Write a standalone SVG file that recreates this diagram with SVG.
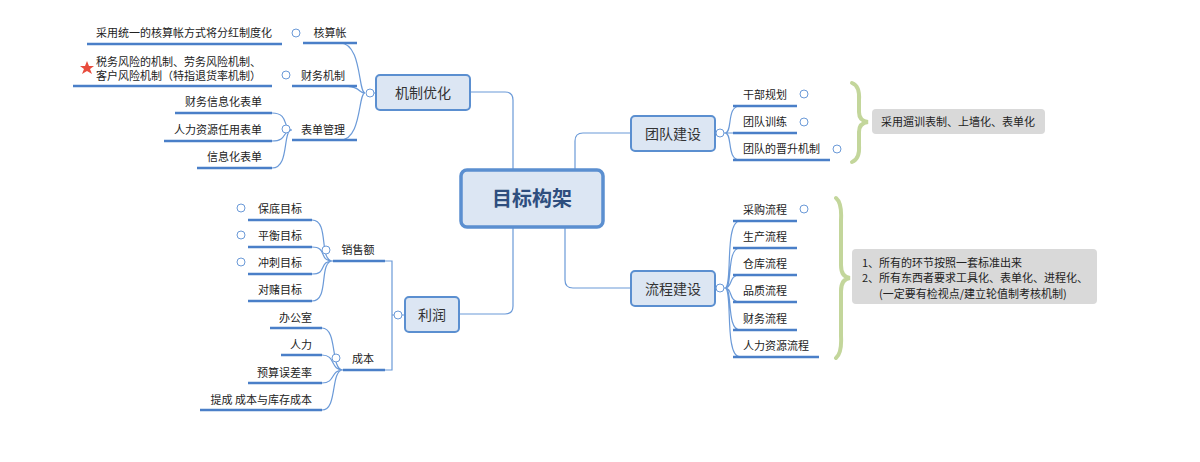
<svg xmlns="http://www.w3.org/2000/svg" width="1200" height="462" viewBox="0 0 1200 462">
<style>
text{font-family:"Noto Sans CJK SC","Liberation Sans",sans-serif;fill:#222}
.s{font-size:11px}
.m{font-size:14px;fill:#333}
.c{font-size:20px;font-weight:bold;fill:#2e4e7e}
.n{fill:#dce6f3;stroke:#5b8fd0;stroke-width:2}
.u{stroke:#4a7fc8;stroke-width:2.5;fill:none}
.l{stroke:#6b9ad8;stroke-width:1.2;fill:none}
.b{stroke:#c3d69b;stroke-width:4;fill:none;stroke-linecap:round}
.t{fill:#fff;stroke:#6b9ad8;stroke-width:1}
.note{fill:#d9d9d9}
</style>
<g id="connectors">
<path class="l" d="M513,170 V100 Q513,92 505,92 H470"/>
<path class="l" d="M575,170 V141 Q575,133 583,133 H631"/>
<path class="l" d="M565,227 V280 Q565,288 573,288 H631"/>
<path class="l" d="M513,227 V306 Q513,314 505,314 H459"/>
<path class="l" d="M376,93 H370 M365,93 C358,93 362,43 340,43 M365,93 C358,93 362,86 340,86 M365,93 C358,93 362,140 340,140"/>
<path class="l" d="M292,130 C282,130 290,113 272,113 M292,130 C282,130 288,141 272,141 M292,130 C282,130 290,168 272,168"/>
<path class="l" d="M405,315 H392 V261 H370 M392,315 V370 H370"/>
<path class="l" d="M333,261 C318,261 330,220 312,220 M333,261 C318,261 328,247 312,247 M333,261 C318,261 328,274 312,274 M333,261 C318,261 330,301 312,301"/>
<path class="l" d="M343,370 C330,370 338,328 322,328 M343,370 C330,370 336,355 322,355 M343,370 C330,370 336,383 322,383 M343,370 C330,370 338,410 322,410"/>
<path class="l" d="M715,133 H725 C733,133 726,106 740,106 M725,133 H740 M725,133 C733,133 726,160 740,160"/>
<path class="l" d="M715,288 H725 C733,288 724,221 740,221 M725,288 C733,288 726,248 740,248 M725,288 C733,288 728,275 740,275 M725,288 C733,288 728,302 740,302 M725,288 C733,288 726,330 740,330 M725,288 C733,288 724,357 740,357"/>
<path class="b" d="M852,83 Q860,86 859,100 L859,112 Q859,121 868,122 Q859,123 859,132 L859,145 Q860,159 852,162"/>
<path class="b" d="M836,198 Q842,203 841,220 L841,265 Q841,277 850,278 Q841,279 841,291 L841,336 Q842,353 836,358"/>
</g>
<g id="center"><rect class="n" x="461" y="170" width="142" height="57" rx="6" style="stroke-width:3.5"/><text class="c" x="532" y="206" text-anchor="middle">目标构架</text></g>
<g id="n-jizhi"><rect class="n" x="376" y="75" width="94" height="35" rx="4"/><text class="m" x="423" y="98" text-anchor="middle">机制优化</text><circle class="t" cx="370" cy="93" r="4"/></g>
<g id="n-hesuan"><path class="u" d="M303,43 H357"/><text class="s" x="330" y="37" text-anchor="middle">核算帐</text><circle class="t" cx="296" cy="33" r="4"/><path class="u" d="M87,44 H282"/><text class="s" x="272" y="37" text-anchor="end">采用统一的核算帐方式将分红制度化</text></g>
<g id="n-caiwu"><path class="u" d="M292,86 H357"/><text class="s" x="323" y="80" text-anchor="middle">财务机制</text><circle class="t" cx="286" cy="75" r="4"/><path class="u" d="M73,86 H272"/><text class="s" x="96" y="66">税务风险的机制、劳务风险机制、</text><text class="s" x="96" y="80">客户风险机制（特指退货率机制）</text><polygon points="87,61 89,66 94,66 90,69 92,74 87,71 82,74 84,69 80,66 85,66" fill="#e84c3d"/></g>
<g id="n-biaodan"><path class="u" d="M292,140 H357"/><text class="s" x="323" y="134" text-anchor="middle">表单管理</text><circle class="t" cx="286" cy="129" r="4"/>
<path class="u" d="M175,113 H272"/><text class="s" x="262" y="106" text-anchor="end">财务信息化表单</text>
<path class="u" d="M164,141 H272"/><text class="s" x="262" y="134" text-anchor="end">人力资源任用表单</text>
<path class="u" d="M197,168 H272"/><text class="s" x="262" y="161" text-anchor="end">信息化表单</text></g>
<g id="n-lirun"><rect class="n" x="405" y="297" width="54" height="35" rx="4"/><text class="m" x="432" y="320" text-anchor="middle">利润</text><circle class="t" cx="398" cy="315" r="4"/></g>
<g id="n-xiaoshou"><path class="u" d="M333,261 H385"/><text class="s" x="358" y="254" text-anchor="middle">销售额</text><circle class="t" cx="326" cy="250" r="4"/>
<path class="u" d="M248,220 H312"/><text class="s" x="280" y="213" text-anchor="middle">保底目标</text><circle class="t" cx="241" cy="208" r="4"/>
<path class="u" d="M248,247 H312"/><text class="s" x="280" y="240" text-anchor="middle">平衡目标</text><circle class="t" cx="241" cy="235" r="4"/>
<path class="u" d="M248,274 H312"/><text class="s" x="280" y="267" text-anchor="middle">冲刺目标</text><circle class="t" cx="241" cy="262" r="4"/>
<path class="u" d="M248,301 H312"/><text class="s" x="280" y="294" text-anchor="middle">对赌目标</text></g>
<g id="n-chengben"><path class="u" d="M343,370 H385"/><text class="s" x="363" y="363" text-anchor="middle">成本</text><circle class="t" cx="336" cy="358" r="4"/>
<path class="u" d="M270,328 H322"/><text class="s" x="312" y="322" text-anchor="end">办公室</text>
<path class="u" d="M281,355 H322"/><text class="s" x="312" y="349" text-anchor="end">人力</text>
<path class="u" d="M248,383 H322"/><text class="s" x="312" y="377" text-anchor="end">预算误差率</text>
<path class="u" d="M200,410 H322"/><text class="s" x="312" y="404" text-anchor="end">提成 成本与库存成本</text></g>
<g id="n-tuandui"><rect class="n" x="631" y="116" width="84" height="35" rx="4"/><text class="m" x="673" y="139" text-anchor="middle">团队建设</text><circle class="t" cx="720" cy="133" r="4"/>
<path class="u" d="M733,106 H797"/><text class="s" x="743" y="99">干部规划</text><circle class="t" cx="804" cy="94" r="4"/>
<path class="u" d="M733,133 H797"/><text class="s" x="743" y="126">团队训练</text><circle class="t" cx="804" cy="122" r="4"/>
<path class="u" d="M733,160 H830"/><text class="s" x="743" y="153">团队的晋升机制</text><circle class="t" cx="837" cy="149" r="4"/>
<rect class="note" x="872" y="109" width="173" height="25" rx="4"/><text class="s" x="881" y="126">采用遛训表制、上墙化、表单化</text></g>
<g id="n-liucheng"><rect class="n" x="631" y="271" width="84" height="35" rx="4"/><text class="m" x="673" y="294" text-anchor="middle">流程建设</text><circle class="t" cx="720" cy="288" r="4"/>
<path class="u" d="M733,221 H797"/><text class="s" x="743" y="214">采购流程</text><circle class="t" cx="804" cy="209" r="4"/>
<path class="u" d="M733,248 H797"/><text class="s" x="743" y="241">生产流程</text>
<path class="u" d="M733,275 H797"/><text class="s" x="743" y="268">仓库流程</text>
<path class="u" d="M733,302 H797"/><text class="s" x="743" y="295">品质流程</text>
<path class="u" d="M733,330 H797"/><text class="s" x="743" y="323">财务流程</text>
<path class="u" d="M733,357 H819"/><text class="s" x="743" y="350">人力资源流程</text>
<rect class="note" x="852" y="249" width="245" height="55" rx="4"/><text class="s" x="862" y="267">1、所有的环节按照一套标准出来</text><text class="s" x="862" y="282">2、所有东西者要求工具化、表单化、进程化、</text><text class="s" x="879" y="298">(一定要有检视点/建立轮值制考核机制)</text></g>
</svg>
